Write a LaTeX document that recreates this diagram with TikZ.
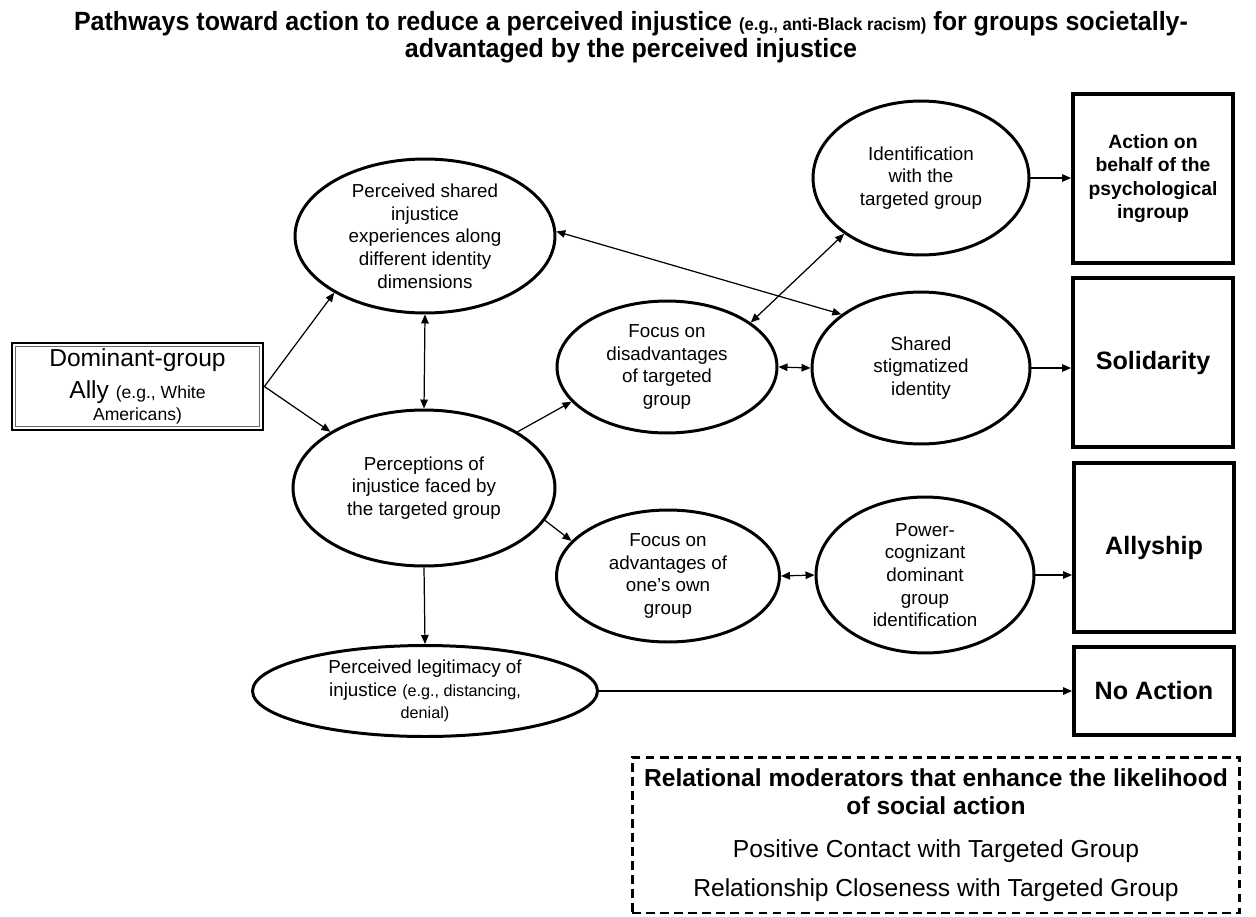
\documentclass[tikz,border=0pt]{standalone}
\usepackage{fontspec}
\setmainfont{Liberation Sans}
\newfontfamily\titlefont[FakeStretch=0.95]{Liberation Sans}
\usetikzlibrary{arrows.meta,shapes.geometric}
\tikzset{
  ell/.style={ellipse, draw, line width=1.7pt, inner sep=0pt, align=center,
    font=\fontsize{10.7}{12.9}\selectfont},
  outbox/.style={rectangle, draw, line width=2.2pt, inner sep=0pt, align=center,
    minimum width=3.2cm},
  conn/.style={line width=0.7pt, -{Triangle[length=1.8mm,width=1.5mm]}},
  bconn/.style={line width=0.7pt, {Triangle[length=1.8mm,width=1.5mm]}-{Triangle[length=1.8mm,width=1.5mm]}},
}
\begin{document}
\begin{tikzpicture}[x=0.02cm,y=-0.02cm]
\useasboundingbox (0,0) rectangle (1256,916);

% title
\node[align=center, font=\titlefont\bfseries\fontsize{15}{15.3}\selectfont] (title) at (631,37)
  {Pathways toward action to reduce a perceived injustice {\fontsize{10}{12}\selectfont(e.g., anti-Black racism)} for groups societally-\\advantaged by the perceived injustice};

% left box
\node[rectangle, draw, line width=1.6pt, minimum width=5.02cm, minimum height=1.74cm, inner sep=0pt, align=center,
  font=\fontsize{14}{18.5}\selectfont] (ally) at (137.5,386.5)
  {Dominant-group\\Ally {\fontsize{10}{12}\selectfont (e.g., White}\\[-6pt]{\fontsize{10}{12}\selectfont Americans)}};
\draw[line width=0.5pt, black!60] ([xshift=2.6pt,yshift=2.6pt]ally.south west) rectangle ([xshift=-2.6pt,yshift=-2.6pt]ally.north east);

% ellipses
\node[ell, minimum width=5.2cm, minimum height=3.08cm] (A) at (425,236)
  {Perceived shared\\injustice\\experiences along\\different identity\\dimensions};
\node[ell, minimum width=5.24cm, minimum height=3.12cm] (B) at (424,488)
  {Perceptions of\\injustice faced by\\the targeted group};
\node[ell, minimum width=6.9cm, minimum height=1.82cm] (C) at (425,691)
  {Perceived legitimacy of\\injustice {\fontsize{9.2}{11}\selectfont(e.g., distancing,}\\{\fontsize{9.2}{11}\selectfont denial)}};
\node[ell, minimum width=4.4cm, minimum height=2.64cm] (D) at (667,367)
  {Focus on\\disadvantages\\of targeted\\group};
\node[ell, minimum width=4.32cm, minimum height=3.08cm] (E) at (921,178)
  {Identification\\with the\\targeted group};
\node[ell, minimum width=4.36cm, minimum height=3.04cm] (F) at (921,368)
  {Shared\\stigmatized\\identity};
\node[ell, minimum width=4.46cm, minimum height=2.64cm] (G) at (668,576)
  {Focus on\\advantages of\\one's own\\group};
\node[ell, minimum width=4.36cm, minimum height=3.12cm] (H) at (925,575)
  {Power-\\cognizant\\dominant\\group\\identification};

% outcome boxes
\node[outbox, minimum height=3.38cm, font=\bfseries\fontsize{11}{13.2}\selectfont] (act) at (1153,178.5)
  {Action on\\behalf of the\\psychological\\ingroup};
\node[outbox, minimum height=3.38cm, font=\bfseries\fontsize{14.3}{17}\selectfont] (sol) at (1153,362.5) {Solidarity};
\node[outbox, minimum height=3.38cm, font=\bfseries\fontsize{14.3}{17}\selectfont] (allyship) at (1154,547.5) {Allyship};
\node[outbox, minimum height=1.76cm, font=\bfseries\fontsize{14.3}{17}\selectfont] (noact) at (1154,691) {No Action};

% moderators box
\node[rectangle, draw, dashed, dash pattern=on 5pt off 3pt, line width=1.7pt, minimum width=12.16cm, minimum height=3.12cm,
  inner sep=0pt, align=center, font=\fontsize{14}{16}\selectfont] (mod) at (936,835)
  {\textbf{Relational moderators that enhance the likelihood}\\\textbf{of social action}\\[8.4pt]
   Positive Contact with Targeted Group\\[6pt]Relationship Closeness with Targeted Group};

% connectors
\draw[conn] (ally.east) -- (A.212);
\draw[conn] (ally.east) -- (B.149);
\draw[bconn] (A.south) -- (B.north);
\draw[conn] (B.31) -- (D.200);
\draw[conn] (B.345) -- (G.160);
\draw[conn] (B.south) -- (C.north);
\draw[bconn] (D.28) -- (E.216);
\draw[bconn] (A.2) -- (F.146);
\draw[bconn] (D.east) -- (F.west);
\draw[bconn] (G.east) -- (H.west);
\draw[conn] (E.east) -- (E.east -| act.west);
\draw[conn] (F.east) -- (F.east -| sol.west);
\draw[conn] (H.east) -- (H.east -| allyship.west);
\draw[conn] (C.east) -- (C.east -| noact.west);
\end{tikzpicture}
\end{document}
